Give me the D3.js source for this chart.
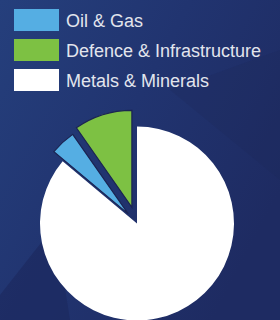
<!DOCTYPE html>
<html>
<head>
<meta charset="utf-8">
<script src="https://cdn.jsdelivr.net/npm/d3@7.9.0/dist/d3.min.js"></script>
<style>
  html, body { margin: 0; padding: 0; background: #1f2d63; }
  svg { display: block; }
</style>
</head>
<body>
<svg id="chart" width="280" height="320"></svg>
<script>
// ====== DATA ======
const categories = ["Oil & Gas", "Defence & Infrastructure", "Metals & Minerals"];
const shares = [4.2, 9.7, 86.1];
const colours = ["#55aee3", "#7dc143", "#ffffff"];

const width = 280, height = 320;
const svg = d3.select("#chart");

// ====== BACKGROUND ======
const defs = svg.append("defs");
const grad = defs.append("linearGradient")
  .attr("id", "bg").attr("x1", "0").attr("y1", "0").attr("x2", "1").attr("y2", "0.6");
grad.append("stop").attr("offset", "0%").attr("stop-color", "#253f7c");
grad.append("stop").attr("offset", "50%").attr("stop-color", "#213470");
grad.append("stop").attr("offset", "100%").attr("stop-color", "#1e2b62");

svg.append("rect").attr("width", width).attr("height", height).attr("fill", "url(#bg)");

// darker facet in the lower-left corner of the backdrop
svg.append("path")
  .attr("d", "M0,295 L55,225 L70,320 L0,320 Z")
  .attr("fill", "#1d2a5f").attr("opacity", 0.7);
svg.append("path")
  .attr("d", "M170,90 L280,50 L280,180 Z")
  .attr("fill", "#1c2759").attr("opacity", 0.25);

// ====== LEGEND ======
const legend = svg.append("g");
categories.forEach((name, i) => {
  const g = legend.append("g").attr("transform", `translate(14,${9 + i * 30})`);
  g.append("rect")
    .attr("width", 45).attr("height", 22)
    .attr("fill", colours[i]);
  g.append("text")
    .attr("x", 52).attr("y", 18)
    .attr("font-family", "Liberation Sans, Arial, sans-serif")
    .attr("font-size", 18)
    .attr("fill", "#e2e5ed")
    .text(name);
});

// ====== PIE ======
const data = categories.map((c, i) => ({ label: c, value: shares[i], colour: colours[i] }));
const total = d3.sum(shares);
const lead = (shares[0] + shares[1]) / total * 2 * Math.PI; // Oil & Defence sit left of 12 o'clock

const radius = 97;
const cx = 137, cy = 223.5;
const explode = { "Oil & Gas": 13, "Defence & Infrastructure": 17, "Metals & Minerals": 0 };

const pie = d3.pie().sort(null).value(d => d.value)
  .startAngle(-lead).endAngle(2 * Math.PI - lead);
const arc = d3.arc().innerRadius(0).outerRadius(radius);

const pieG = svg.append("g").attr("transform", `translate(${cx},${cy})`);
pieG.selectAll("path")
  .data(pie(data))
  .join("path")
  .attr("d", arc)
  .attr("fill", d => d.data.colour)
  .attr("stroke", d => d.data.label === "Metals & Minerals" ? "none" : "#1b2452")
  .attr("stroke-width", 1.2)
  .attr("transform", d => {
    const mid = (d.startAngle + d.endAngle) / 2;
    const off = explode[d.data.label];
    return `translate(${Math.sin(mid) * off},${-Math.cos(mid) * off})`;
  });
</script>
</body>
</html>
